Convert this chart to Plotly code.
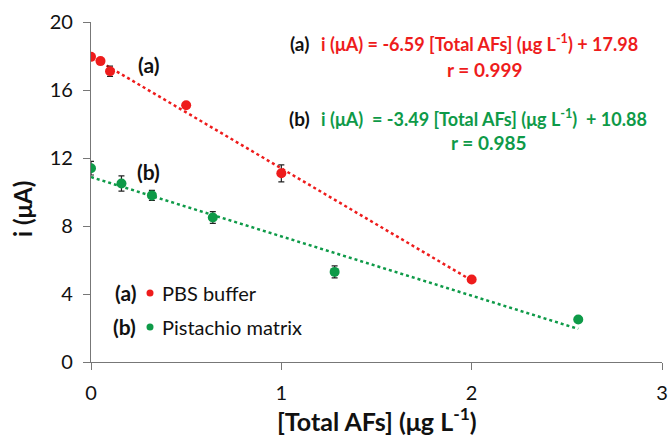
import plotly.graph_objects as go

# PBS buffer (a)
pbs_x = [0, 0.05, 0.1, 0.5, 1.0, 2.0]
pbs_y = [17.95, 17.7, 17.1, 15.1, 11.1, 4.85]
pbs_err = [0.1, 0.1, 0.3, 0.1, 0.5, 0.1]
# Pistachio matrix (b)
pis_x = [0, 0.16, 0.32, 0.64, 1.28, 2.56]
pis_y = [11.4, 10.5, 9.8, 8.5, 5.3, 2.5]
pis_err = [0.4, 0.45, 0.3, 0.35, 0.35, 0.1]

# calibration fits
a_slope, a_int = -6.59, 17.98
b_slope, b_int = -3.49, 10.88
a_fit_x = [0, 2.0]
b_fit_x = [0, 2.56]

RED = "#ee1c1c"
GREEN = "#0e9a48"
FONT = "Lato"

fig = go.Figure()
fig.add_trace(go.Scatter(x=a_fit_x, y=[a_slope * v + a_int for v in a_fit_x], mode="lines",
                         line=dict(color=RED, width=2.5, dash="dot"), showlegend=False))
fig.add_trace(go.Scatter(x=b_fit_x, y=[b_slope * v + b_int for v in b_fit_x], mode="lines",
                         line=dict(color=GREEN, width=2.5, dash="dot"), showlegend=False))
fig.add_trace(go.Scatter(x=pbs_x, y=pbs_y, mode="markers",
                         marker=dict(color=RED, size=10),
                         error_y=dict(type="data", array=pbs_err, color="#222", thickness=1.2, width=3),
                         showlegend=False))
fig.add_trace(go.Scatter(x=pis_x, y=pis_y, mode="markers",
                         marker=dict(color=GREEN, size=10),
                         error_y=dict(type="data", array=pis_err, color="#222", thickness=1.2, width=3),
                         showlegend=False))

ann = []
def A(x, y, text, color="#111", size=21, bold=True, xanchor="center", xref="x", yref="y", angle=0):
    ann.append(dict(x=x, y=y, xref=xref, yref=yref, text=("<b>%s</b>" % text) if bold else text,
                    showarrow=False, xanchor=xanchor, yanchor="middle", textangle=angle,
                    font=dict(family=FONT, size=size, color=color)))

A(0.3, 17.5, "(a)")
A(0.3, 11.2, "(b)")
A(0.245, 4.06, "(a)", xanchor="right")
A(0.365, 4.06, "PBS buffer", bold=False, size=20, xanchor="left")
A(0.245, 2.06, "(b)", xanchor="right")
A(0.365, 2.06, "Pistachio matrix", bold=False, size=20, xanchor="left")
# legend dots
fig.add_trace(go.Scatter(x=[0.31, 0.31], y=[4.06, 2.06], mode="markers",
                         marker=dict(color=[RED, GREEN], size=7), showlegend=False))

A(1.095, 18.75, "(a)", xanchor="center", size=19)
A(1.2, 18.75, "i (μA) = -6.59 [Total AFs] (μg L<sup>-1</sup>) + 17.98", color=RED, xanchor="left", size=18)
A(2.07, 17.2, "r = 0.999", color=RED, size=19)
A(1.095, 14.35, "(b)", xanchor="center", size=19)
A(1.2, 14.35, "i (μA)  = -3.49 [Total AFs] (μg L<sup>-1</sup>)  + 10.88", color=GREEN, xanchor="left", size=18)
A(2.09, 12.9, "r = 0.985", color=GREEN, size=19)

# axis titles
A(0.5, -0.168, "[Total AFs] (μg L<sup>-1</sup>)", size=25, xref="paper", yref="paper")
A(-0.121, 0.45, "i (μA)", size=24, xref="paper", yref="paper", angle=-90)

fig.update_layout(
    width=668, height=437,
    margin=dict(l=91, r=6, t=22, b=75),
    paper_bgcolor="white", plot_bgcolor="white",
    annotations=ann,
    font=dict(family=FONT, color="#111"),
    xaxis=dict(range=[0, 3], tickvals=[0, 1, 2, 3], showline=True, linecolor="#777", linewidth=1.2,
               ticks="outside", ticklen=7, tickcolor="#777", showgrid=False, zeroline=False,
               automargin=False,
               tickfont=dict(family=FONT, size=20, color="#111"),
               ticklabelstandoff=6),
    yaxis=dict(range=[0, 20], tickvals=[0, 4, 8, 12, 16, 20], showline=True, linecolor="#777", linewidth=1.2,
               ticks="outside", ticklen=7, tickcolor="#777", showgrid=False, zeroline=False,
               automargin=False,
               tickfont=dict(family=FONT, size=20, color="#111"),
               ticklabelstandoff=6),
)
fig.update_xaxes(tickprefix="<b>", ticksuffix="</b>")
fig.update_yaxes(tickprefix="<b>", ticksuffix="</b>")
fig.write_html("out.html")
